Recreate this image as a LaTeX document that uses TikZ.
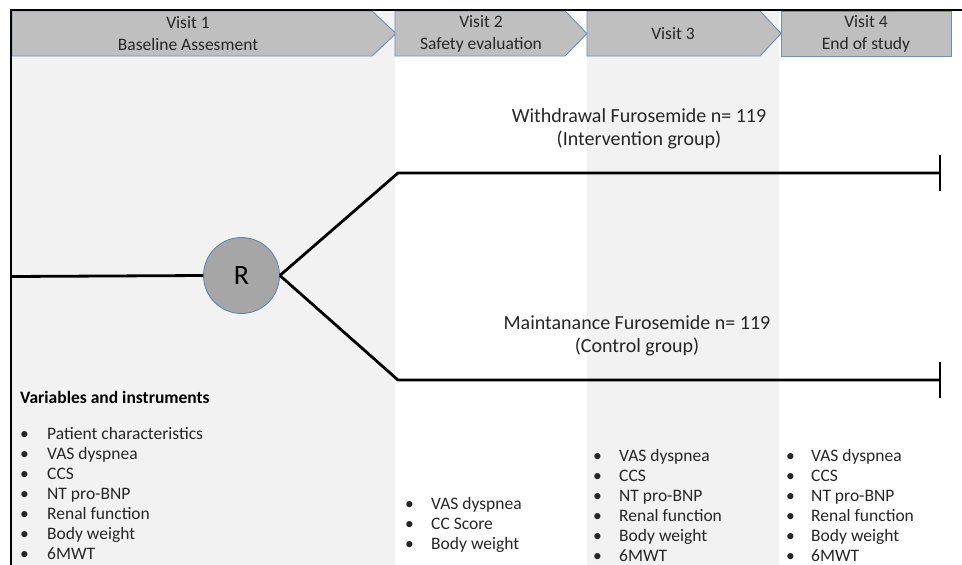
\documentclass[tikz,border=0pt]{standalone}
\usepackage{fontspec}
\setmainfont{Carlito}
\definecolor{hdrgray}{HTML}{BFBFBF}
\definecolor{hdrblue}{HTML}{6D8FB5}
\definecolor{shadegray}{HTML}{F2F2F2}
\definecolor{rgray}{HTML}{A6A6A6}
\definecolor{rblue}{HTML}{5B82AE}
\definecolor{txt}{HTML}{262626}
\begin{document}
\begin{tikzpicture}[x=1pt,y=-1pt,
  shade/.style={fill=shadegray,draw=none},
  hdr/.style={fill=hdrgray,draw=hdrblue,line width=0.9pt,line join=miter},
  hdrtext/.style={font=\fontsize{17.5}{22}\selectfont,text=txt,align=center,inner sep=0pt},
  frame/.style={line width=1.6pt,black},
  branch/.style={line width=2.8pt,black},
  rnode/.style={circle,minimum size=76pt,inner sep=0pt,fill=rgray,draw=rblue,line width=0.8pt,font=\fontsize{28}{30}\selectfont},
  armtext/.style={font=\fontsize{20}{22.5}\selectfont,text=txt,align=center,inner sep=0pt},
  item/.style={anchor=base west,font=\fontsize{17.5}{20}\selectfont,text=txt,inner sep=0pt},
  heading/.style={anchor=base west,font=\bfseries\fontsize{17.5}{20}\selectfont,text=black,inner sep=0pt}]
\useasboundingbox (0,0) rectangle (962,565);
% shaded columns
\fill[shade] (12,11) rectangle (395,565);
\fill[shade] (587,11) rectangle (779,565);
% header chevrons
\draw[hdr] (12,11) -- (372,11) -- (396,33.5) -- (372,56) -- (12,56) -- cycle;
\draw[hdr] (395,11) -- (565,11) -- (587,33.5) -- (565,56) -- (395,56) -- cycle;
\draw[hdr] (587,11) -- (760,11) -- (781,33.5) -- (760,56) -- (587,56) -- cycle;
\draw[hdr] (781,11) rectangle (951,56);
\node[hdrtext] (h1) at (188,33.5) {Visit 1\\Baseline Assesment};
\node[hdrtext] (h2) at (481,33.5) {Visit 2\\Safety evaluation};
\node[hdrtext] (h3) at (673,33.5) {Visit 3};
\node[hdrtext] (h4) at (866,33.5) {Visit 4\\End of study};
% frame
\draw[frame] (11,565) -- (11,10) -- (962,10);
% randomisation
\coordinate (lstart) at (11,276.5);
\node[rnode] (R) at (241.5,275.5) {R};
\coordinate (u1) at (398,173);
\coordinate (u2) at (940,173);
\coordinate (d1) at (398,380);
\coordinate (d2) at (940,380);
\draw[branch] (lstart) -- (R.west);
\draw[branch] (R.east) -- (u1) -- (u2);
\draw[branch] (R.east) -- (d1) -- (d2);
\draw[branch] ([yshift=18pt]u2) -- ([yshift=-18pt]u2);
\draw[branch] ([yshift=18pt]d2) -- ([yshift=-18pt]d2);
\node[armtext] (arm1) at (639,129) {Withdrawal Furosemide n= 119\\(Intervention group)};
\node[armtext] (arm2) at (637,336) {Maintanance Furosemide n= 119\\(Control group)};
% variables
\node[heading] (vh) at (20,403) {Variables and instruments};
\foreach \t [count=\i] in {Patient characteristics,VAS dyspnea,CCS,NT pro-BNP,Renal function,Body weight,6MWT}
  \node[item] (a\i) at (20,{439+20*(\i-1)}) {\makebox[27pt][l]{•}\t};
\foreach \t [count=\i] in {VAS dyspnea,CC Score,Body weight}
  \node[item] (b\i) at (405,{509+20*(\i-1)}) {\makebox[26pt][l]{•}\t};
\foreach \t [count=\i] in {VAS dyspnea,CCS,NT pro-BNP,Renal function,Body weight,6MWT}
  \node[item] (c\i) at (593,{461+20*(\i-1)}) {\makebox[26pt][l]{•}\t};
\foreach \t [count=\i] in {VAS dyspnea,CCS,NT pro-BNP,Renal function,Body weight,6MWT}
  \node[item] (d\i) at (786,{461+20*(\i-1)}) {\makebox[25pt][l]{•}\t};
\end{tikzpicture}
\end{document}
